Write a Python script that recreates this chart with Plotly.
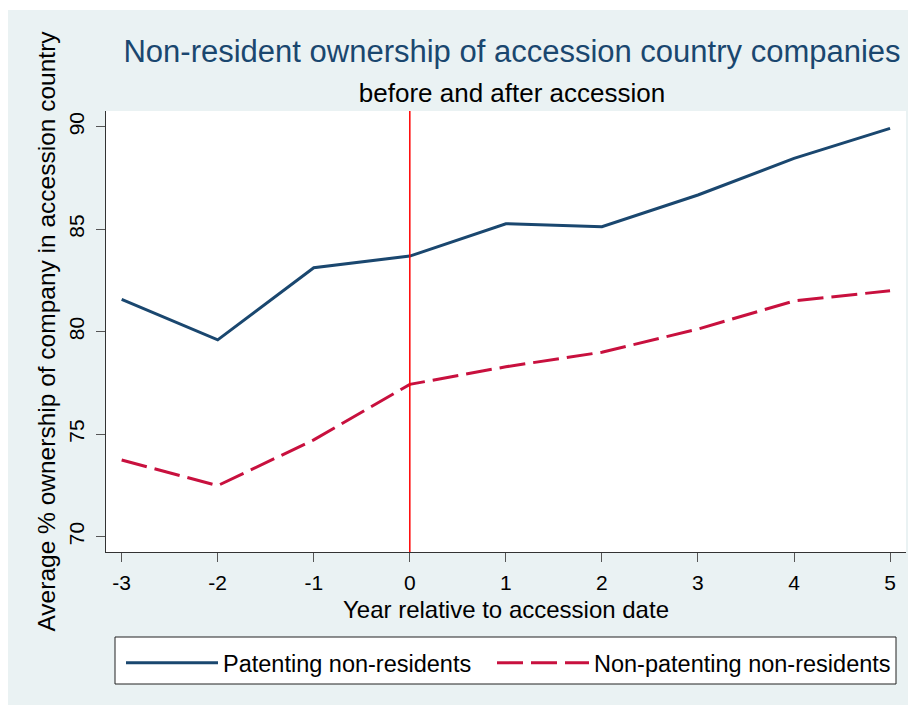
import plotly.graph_objects as go

years = [-3, -2, -1, 0, 1, 2, 3, 4, 5]
patenting = [81.58, 79.60, 83.12, 83.69, 85.27, 85.12, 86.67, 88.46, 89.92]
non_patenting = [73.74, 72.49, 74.72, 77.43, 78.29, 79.00, 80.13, 81.50, 82.00]
series_names = ["Patenting non-residents", "Non-patenting non-residents"]
y_ticks = [70, 75, 80, 85, 90]
x_ticks = [-3, -2, -1, 0, 1, 2, 3, 4, 5]
accession_year = 0

# page body has an 8px margin; layout is expressed in screenshot pixels
OFF = 8
W, H = 916 - OFF, 710 - OFF
PL, PT, PR, PB = 106, 111, 906, 552          # plot area in screenshot pixels
L, T = PL - OFF, PT - OFF
R, B = (OFF + W) - PR, (OFF + H) - PB
pw, ph = W - L - R, H - T - B

def px(x):
    return (x - PL) / pw

def py(y):
    return (PB - y) / ph

FONT = "Liberation Sans, Arial, sans-serif"
BG = "#EAF2F3"
NAVY = "#1A476F"
RED = "#C8103E"

fig = go.Figure()
fig.add_trace(go.Scatter(x=years, y=patenting, mode="lines", name=series_names[0],
                         line=dict(color=NAVY, width=3), legend="legend"))
fig.add_trace(go.Scatter(x=years, y=non_patenting, mode="lines", name=series_names[1],
                         line=dict(color=RED, width=3, dash="26px,8px"), legend="legend2"))

fig.add_vline(x=accession_year, line=dict(color="#FF0000", width=1.5))

shapes = [
    # white strips outside the light graph region
    dict(type="rect", xref="paper", yref="paper", x0=px(-20), x1=px(940), y0=py(-20), y1=py(10),
         fillcolor="white", line_width=0, layer="below"),
    dict(type="rect", xref="paper", yref="paper", x0=px(-20), x1=px(940), y0=py(705), y1=py(730),
         fillcolor="white", line_width=0, layer="below"),
    # legend frame
    dict(type="rect", xref="paper", yref="paper", x0=px(115), x1=px(896), y0=py(684), y1=py(637),
         fillcolor="white", line=dict(color="#222", width=1), layer="above"),
]
for s in shapes:
    fig.add_shape(**s)

leg_common = dict(
    orientation="h", xanchor="left", y=py(641), yanchor="top",
    bgcolor="rgba(0,0,0,0)", borderwidth=0,
    font=dict(size=23.5, family=FONT, color="black"),
    itemwidth=92,
)

fig.update_layout(
    width=W, height=H,
    margin=dict(l=L, r=R, t=T, b=B, autoexpand=False),
    paper_bgcolor=BG, plot_bgcolor="white",
    font=dict(family=FONT, color="black"),
    title=dict(
        text="Non-resident ownership of accession country companies<br><span style='font-size:26px;color:black'>before and after accession</span>",
        x=(512 - OFF) / W, xanchor="center", y=1 - 54 / H, yanchor="top",
        font=dict(size=31, color=NAVY, family=FONT),
        automargin=False,
    ),
    showlegend=True,
    legend=dict(x=px(121), **leg_common),
    legend2=dict(x=px(492), **leg_common),
    xaxis=dict(
        range=[-3.163, 5.166], tickvals=x_ticks, ticktext=[str(v) for v in x_ticks],
        showgrid=False, zeroline=False, showline=True, linecolor="#333", linewidth=1,
        ticks="outside", ticklen=9, tickcolor="#555", tickwidth=1, automargin=False,
        ticklabelstandoff=3,
        tickfont=dict(size=21, family=FONT, color="black"),
        title=dict(text="Year relative to accession date", font=dict(size=24, family=FONT, color="black"),
                   standoff=7),
    ),
    yaxis=dict(
        range=[69.25, 90.77], tickvals=y_ticks, ticktext=[str(v) for v in y_ticks],
        showgrid=False, zeroline=False, showline=True, linecolor="#333", linewidth=1,
        ticks="outside", ticklen=9, tickcolor="#555", tickwidth=1, tickangle=-90,
        automargin=False, ticklabelstandoff=4,
        tickfont=dict(size=21, family=FONT, color="black"),
        title=dict(text="Average % ownership of company in accession country",
                   font=dict(size=24.5, family=FONT, color="black"), standoff=2),
    ),
)

fig.write_html("out.html")
